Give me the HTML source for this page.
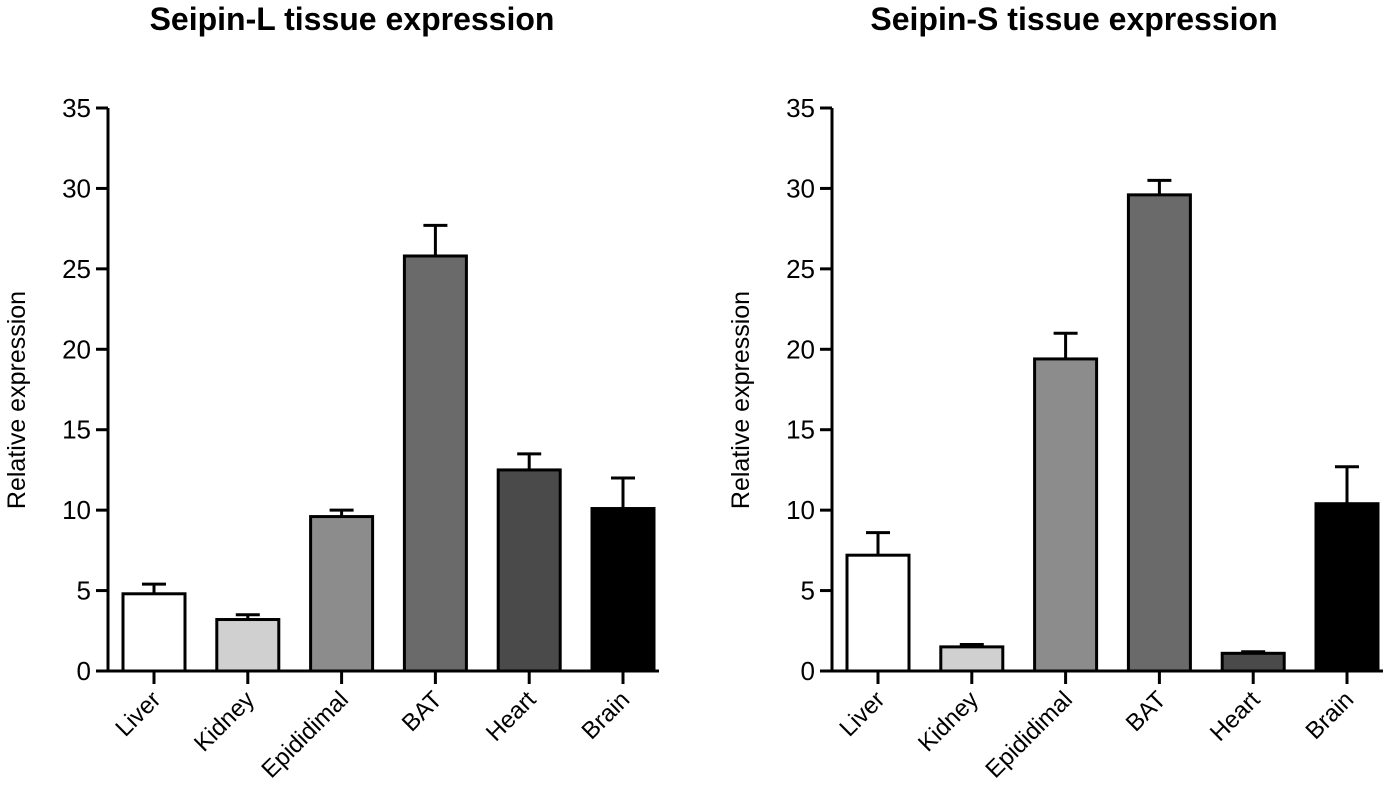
<!DOCTYPE html>
<html><head><meta charset="utf-8"><style>
body{margin:0;background:#fff;width:1400px;height:801px;overflow:hidden}
svg{font-family:"Liberation Sans",Arial,sans-serif}
</style></head><body>
<svg id="c" width="1400" height="801"></svg>
<script>
const categories=["Liver","Kidney","Epididimal","BAT","Heart","Brain"];
const seipinLValues=[4.8,3.2,9.6,25.8,12.5,10.1];
const seipinLErrors=[0.6,0.3,0.4,1.9,1.0,1.9];
const seipinSValues=[7.2,1.5,19.4,29.6,1.1,10.4];
const seipinSErrors=[1.4,0.15,1.6,0.9,0.1,2.3];
const yTicks=[0,5,10,15,20,25,30,35];
const fills=["#ffffff","#d0d0d0","#8c8c8c","#6a6a6a","#4a4a4a","#000000"];
const NS="http://www.w3.org/2000/svg";
const svg=document.getElementById('c');
function mk(t,a,p){const e=document.createElementNS(NS,t);for(const k in a)e.setAttribute(k,a[k]);(p||svg).appendChild(e);return e;}
function chart(ax,titleX,title,vals,errs,name){
  const g=mk('g',{});
  
  
  const y0=671,y35=108;
  const y=v=>y0-(v/35)*(y0-y35);
  const x=i=>ax+46+i*93.8;
  const t=mk('text',{x:titleX,y:30,'font-size':32,'font-weight':'bold','text-anchor':'middle'},g);t.textContent=title;
  
  const yl=mk('text',{transform:`translate(${ax-83},400) rotate(-90)`,'font-size':25,'text-anchor':'middle'},g);yl.textContent='Relative expression';
  
  vals.forEach((v,i)=>{
    const cx=x(i),w=62;
    const top=y(v+errs[i]);
    mk('line',{x1:cx,x2:cx,y1:y(v),y2:top,stroke:'#000','stroke-width':3},g);
    mk('line',{x1:cx-12,x2:cx+12,y1:top,y2:top,stroke:'#000','stroke-width':3},g);
    const r=mk('rect',{x:cx-w/2,y:y(v),width:w,height:y0-y(v),fill:fills[i],stroke:'#000','stroke-width':3},g);
    
    
    mk('line',{x1:cx,x2:cx,y1:y0,y2:y0+13,stroke:'#000','stroke-width':3},g);
    const l=mk('text',{transform:`translate(${cx+8},${y0+30}) rotate(-45)`,'font-size':24,'text-anchor':'end'},g);l.textContent=categories[i];
    
  });
  mk('line',{x1:ax,x2:ax,y1:y35,y2:y0+1.5,stroke:'#000','stroke-width':3},g);
  mk('line',{x1:ax-12,x2:x(5)+36,y1:y0,y2:y0,stroke:'#000','stroke-width':3},g);
  yTicks.forEach(v=>{
    mk('line',{x1:ax-12,x2:ax,y1:y(v),y2:y(v),stroke:'#000','stroke-width':3},g);
    const tl=mk('text',{x:ax-17,y:y(v)+9,'font-size':26,'text-anchor':'end'},g);tl.textContent=v;
    
  });
}
chart(108,352,'Seipin-L tissue expression',seipinLValues,seipinLErrors,'seipin-l-chart');
chart(832,1074,'Seipin-S tissue expression',seipinSValues,seipinSErrors,'seipin-s-chart');
</script>
</body></html>
